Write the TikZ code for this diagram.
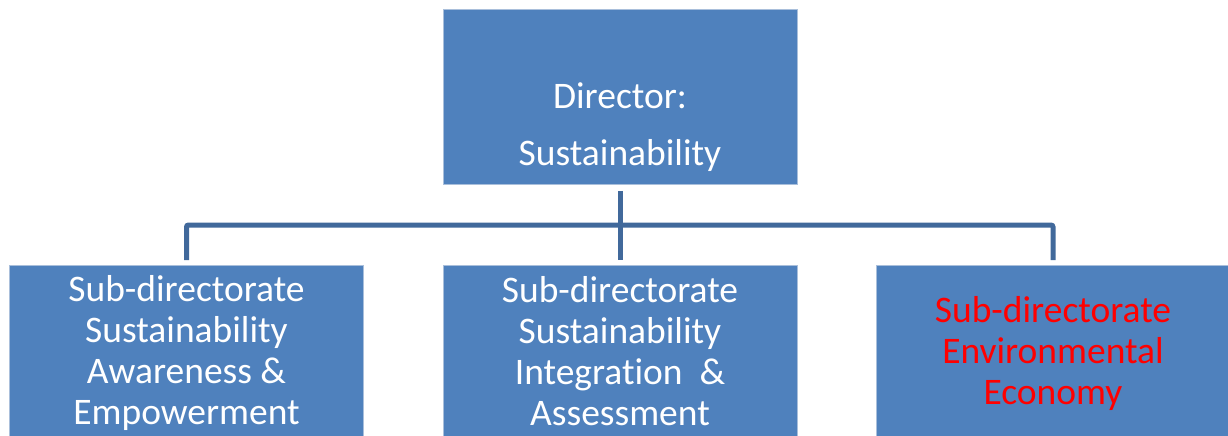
\documentclass[tikz,border=0pt]{standalone}
\usepackage{fontspec}
\setmainfont[Ligatures=NoCommon]{Carlito}
\usepackage{tikz}
\usetikzlibrary{positioning}
\usetikzlibrary{calc}

\definecolor{unitblue}{HTML}{4F81BD}
\definecolor{unitedge}{HTML}{A9BFDB}
\definecolor{linkblue}{HTML}{41699B}
\definecolor{alertred}{HTML}{FF0000}

\tikzset{
  unit/.style={rectangle, fill=unitblue, draw=unitedge, line width=0.8pt,
    minimum width=354pt, minimum height=171pt, inner sep=0pt,
    text=white, align=center, font=\fontsize{37.5}{41}\selectfont},
  unittext/.style={text=white, align=center, inner sep=0pt,
    font=\fontsize{37.5}{57}\selectfont},
  link/.style={draw=linkblue, line width=5pt, rounded corners=2pt}
}

\begin{document}
\begin{tikzpicture}[x=1pt,y=-1pt]
  \useasboundingbox (0,0) rectangle (1228,436);
  % director
  \node[unit, minimum height=175pt] (director) at (620,97) {};
  \node[unittext] (directorlabel) at (620,127) {Director:\\Sustainability};
  % sub-directorates
  \node[unit, text depth=2pt] (awareness) at (186.5,351) {Sub-directorate\\Sustainability\\Awareness \&\\Empowerment};
  \node[unit] (integration) at (620,351) {Sub-directorate\\Sustainability\\Integration~ \&\\Assessment};
  \node[unit, text=alertred, text depth=2pt] (economy) at (1053,351) {Sub-directorate\\Environmental\\Economy};
  % connectors
  \coordinate (hub) at (620,225);
  \draw[link] ([yshift=5pt]awareness.north) |- (hub) -| ([yshift=5pt]economy.north);
  \draw[link] ([yshift=-6pt]director.south) -- ([yshift=5pt]integration.north);
\end{tikzpicture}
\end{document}
